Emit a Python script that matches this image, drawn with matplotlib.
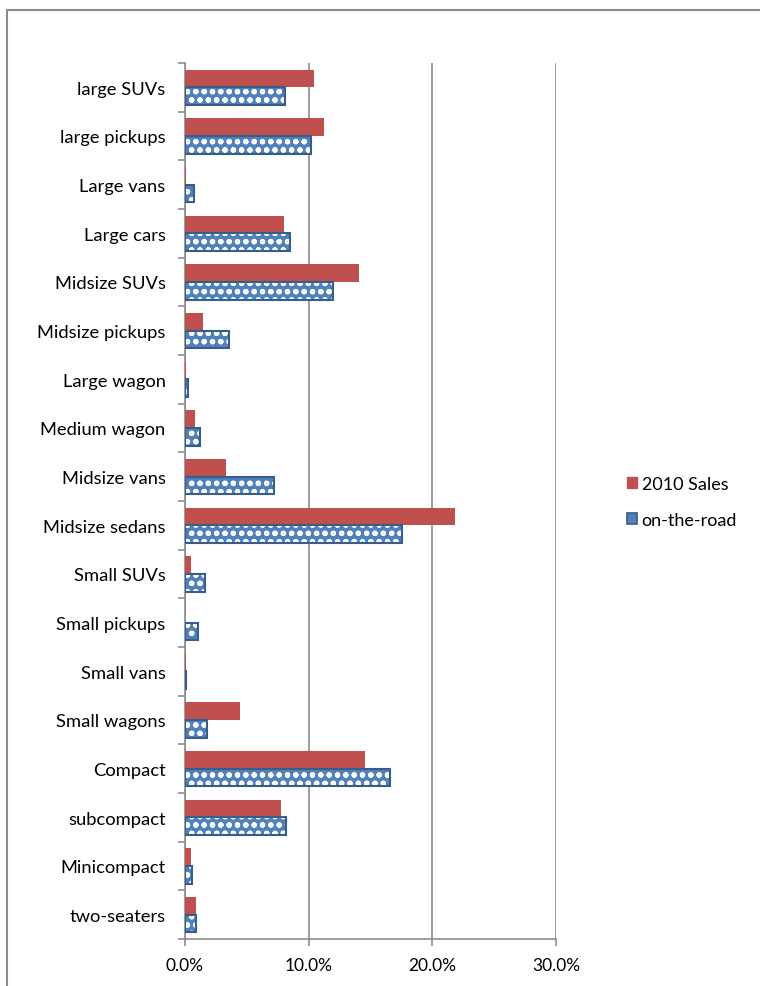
import numpy as np
import matplotlib
matplotlib.use("Agg")
import matplotlib.pyplot as plt
from matplotlib.patches import Rectangle, Patch

#____Data (share of vehicles, %)
categories = ["large SUVs", "large pickups", "Large vans", "Large cars", "Midsize SUVs",
              "Midsize pickups", "Large wagon", "Medium wagon", "Midsize vans",
              "Midsize sedans", "Small SUVs", "Small pickups", "Small vans",
              "Small wagons", "Compact", "subcompact", "Minicompact", "two-seaters"]
sales_2010 = [10.4, 11.2, 0.1, 8.0, 14.1, 1.45, 0.1, 0.8, 3.35,
              21.85, 0.5, 0.0, 0.1, 4.45, 14.55, 7.8, 0.5, 0.85]
on_the_road = [8.1, 10.15, 0.7, 8.5, 12.0, 3.55, 0.28, 1.25, 7.2,
               17.55, 1.6, 1.05, 0.12, 1.8, 16.6, 8.2, 0.55, 0.9]
x_ticks = [0, 10, 20, 30]
x_tick_labels = ["0.0%", "10.0%", "20.0%", "30.0%"]

RED = "#C0504D"
BLUE = "#4F81BD"
BLUE_EDGE = "#385D8A"
GRAY = "#8C8C8C"

plt.rcParams['font.family'] = ['Lato', 'DejaVu Sans']
plt.rcParams['hatch.linewidth'] = 1.5

fig = plt.figure(figsize=(7.6, 9.87), dpi=100)
ax = fig.add_axes([185 / 760, 1 - 940 / 987, 371 / 760, 876 / 987])

y = np.arange(len(categories))
h = 0.36

ax.barh(y - h / 2, sales_2010, height=h, color=RED, zorder=3)
# hatched fill then dark outline on top
ax.barh(y + h / 2, on_the_road, height=h, color=BLUE, edgecolor="white",
        linewidth=0, hatch="oo", zorder=3)
ax.barh(y + h / 2, on_the_road, height=h, facecolor="none", edgecolor=BLUE_EDGE,
        linewidth=1.5, zorder=4)

ax.set_xlim(0, 30)
ax.set_ylim(len(categories) - 0.5, -0.5)
ax.set_xticks(x_ticks)
ax.set_xticklabels(x_tick_labels, fontsize=12.5)
ax.set_yticks(y)
ax.set_yticklabels(categories, fontsize=13.2)
ax.set_yticks(np.arange(len(categories) + 1) - 0.5, minor=True)
ax.tick_params(axis="y", which="major", length=0, pad=14)
ax.tick_params(axis="y", which="minor", length=5, color=GRAY, width=1.2)
ax.tick_params(axis="x", length=5, color=GRAY, width=1.2, pad=8)

ax.grid(axis="x", color=GRAY, linewidth=1.2, zorder=0)
for side in ["top", "right"]:
    ax.spines[side].set_visible(False)
for side in ["left", "bottom"]:
    ax.spines[side].set_color(GRAY)
    ax.spines[side].set_linewidth(1.2)

# legend
handles = [Patch(facecolor=RED, edgecolor=RED),
           Patch(facecolor=BLUE, edgecolor=BLUE_EDGE, linewidth=1.2)]
leg = fig.legend(handles, ["2010 Sales", "on-the-road"], loc="center left",
                 bbox_to_anchor=(611 / 760, 1 - 503 / 987), frameon=False,
                 fontsize=13, handlelength=0.55, handleheight=0.55,
                 handletextpad=0.25, labelspacing=1.1)

# outer chart frame (cropped at right and bottom)
fig.patches.append(Rectangle((7 / 760, -0.1), 1.2, 1.1 - 11 / 987,
                             transform=fig.transFigure, fill=False,
                             edgecolor=GRAY, linewidth=1.5))

fig.savefig("out.png", dpi=100)
